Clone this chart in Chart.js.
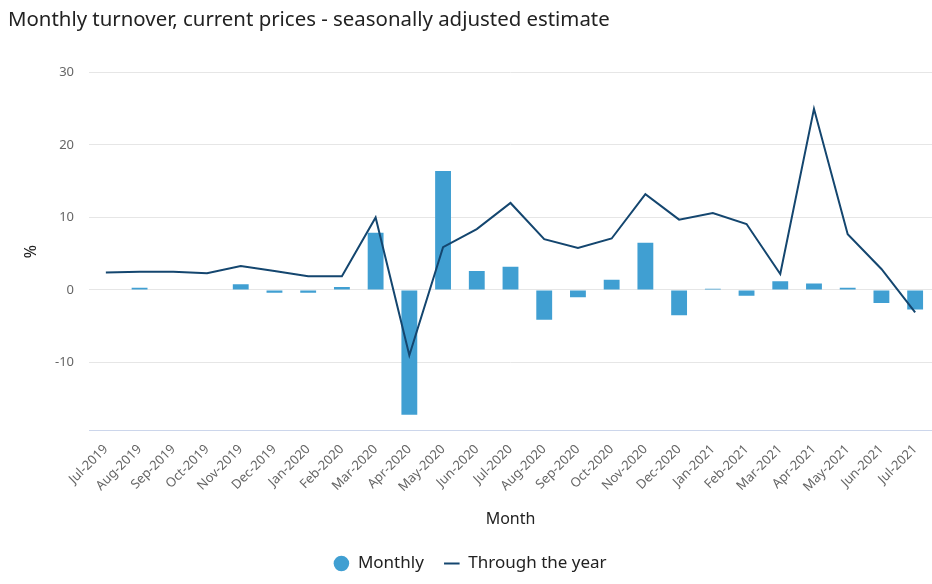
<!DOCTYPE html>
<html>
<head>
<meta charset="utf-8">
<script src="https://cdn.jsdelivr.net/npm/chart.js@4"></script>
<style>
  body { margin: 0; background: #fff; }
  #wrap { width: 932px; height: 584px; }
</style>
</head>
<body>
<div id="wrap"><canvas id="turnover"></canvas></div>
<script>
// months on the x axis
const months = ['Jul-2019','Aug-2019','Sep-2019','Oct-2019','Nov-2019','Dec-2019','Jan-2020','Feb-2020',
  'Mar-2020','Apr-2020','May-2020','Jun-2020','Jul-2020','Aug-2020','Sep-2020','Oct-2020','Nov-2020',
  'Dec-2020','Jan-2021','Feb-2021','Mar-2021','Apr-2021','May-2021','Jun-2021','Jul-2021'];

// monthly % change (bars)
const monthly = [0.0, 0.3, 0.0, 0.0, 0.8, -0.4, -0.4, 0.4,
  7.9, -17.2, 16.4, 2.6, 3.2, -4.1, -1.0, 1.4, 6.5,
  -3.5, 0.15, -0.8, 1.2, 0.9, 0.3, -1.8, -2.7];

// through the year % change (line)
const throughYear = [2.4, 2.5, 2.5, 2.3, 3.3, 2.6, 1.9, 1.9,
  10.0, -9.0, 5.9, 8.4, 12.0, 7.0, 5.8, 7.1, 13.2,
  9.7, 10.6, 9.1, 2.2, 25.0, 7.7, 2.9, -3.1];

const yTicks = [-10, 0, 10, 20, 30];

const fontFam = '"Noto Sans", "Open Sans", sans-serif';

var ctx = document.getElementById('turnover');
var chart = new Chart(ctx, {
  data: {
    labels: months,
    datasets: [
      {
        type: 'line',
        label: 'Through the year',
        data: throughYear,
        borderColor: '#14466f',
        backgroundColor: '#14466f',
        borderWidth: 2,
        pointRadius: 0,
        pointStyle: 'line',
        tension: 0
      },
      {
        type: 'bar',
        label: 'Monthly',
        data: monthly,
        backgroundColor: '#409fd2',
        borderColor: '#409fd2',
        borderWidth: 0,
        pointStyle: 'circle',
        barPercentage: 0.47,
        categoryPercentage: 1.0
      }
    ]
  },
  options: {
    responsive: true,
    maintainAspectRatio: false,
    animation: false,
    layout: { padding: { left: 8, right: 0, top: 8, bottom: 2 } },
    plugins: {
      title: {
        display: true,
        text: 'Monthly turnover, current prices - seasonally adjusted estimate',
        align: 'start',
        color: '#222',
        font: { family: fontFam, size: 20.4, weight: 'normal' },
        padding: { top: 0, bottom: 40 }
      },
      legend: {
        position: 'bottom',
        reverse: true,
        labels: {
          usePointStyle: true,
          boxHeight: 11,
          boxWidth: 16,
          color: '#222',
          font: { family: fontFam, size: 17 },
          padding: 20
        }
      },
      tooltip: { enabled: false }
    },
    scales: {
      x: {
        grid: { display: false },
        border: { color: '#ccd6eb' },
        afterFit: function (s) {
          s.paddingLeft = 0;
          s.paddingRight = 0;
        },
        ticks: {
          color: '#666',
          font: { family: fontFam, size: 13 },
          minRotation: 45,
          maxRotation: 45,
          autoSkip: false
        },
        title: {
          display: true,
          text: 'Month',
          color: '#222',
          font: { family: fontFam, size: 16 },
          padding: { top: 12, bottom: 6 }
        }
      },
      y: {
        min: -19.4,
        max: 30,
        afterBuildTicks: function (axis) {
          axis.ticks = yTicks.map(v => ({ value: v }));
        },
        afterFit: function (s) {
          s.width = 81;
        },
        grid: { color: '#e6e6e6', drawTicks: false },
        border: { display: false },
        ticks: {
          color: '#666',
          padding: 15,
          font: { family: fontFam, size: 13 }
        },
        title: {
          display: true,
          text: '%',
          color: '#222',
          font: { family: fontFam, size: 16 },
          padding: { top: 14, bottom: 10 }
        }
      }
    }
  }
});
</script>
</body>
</html>
